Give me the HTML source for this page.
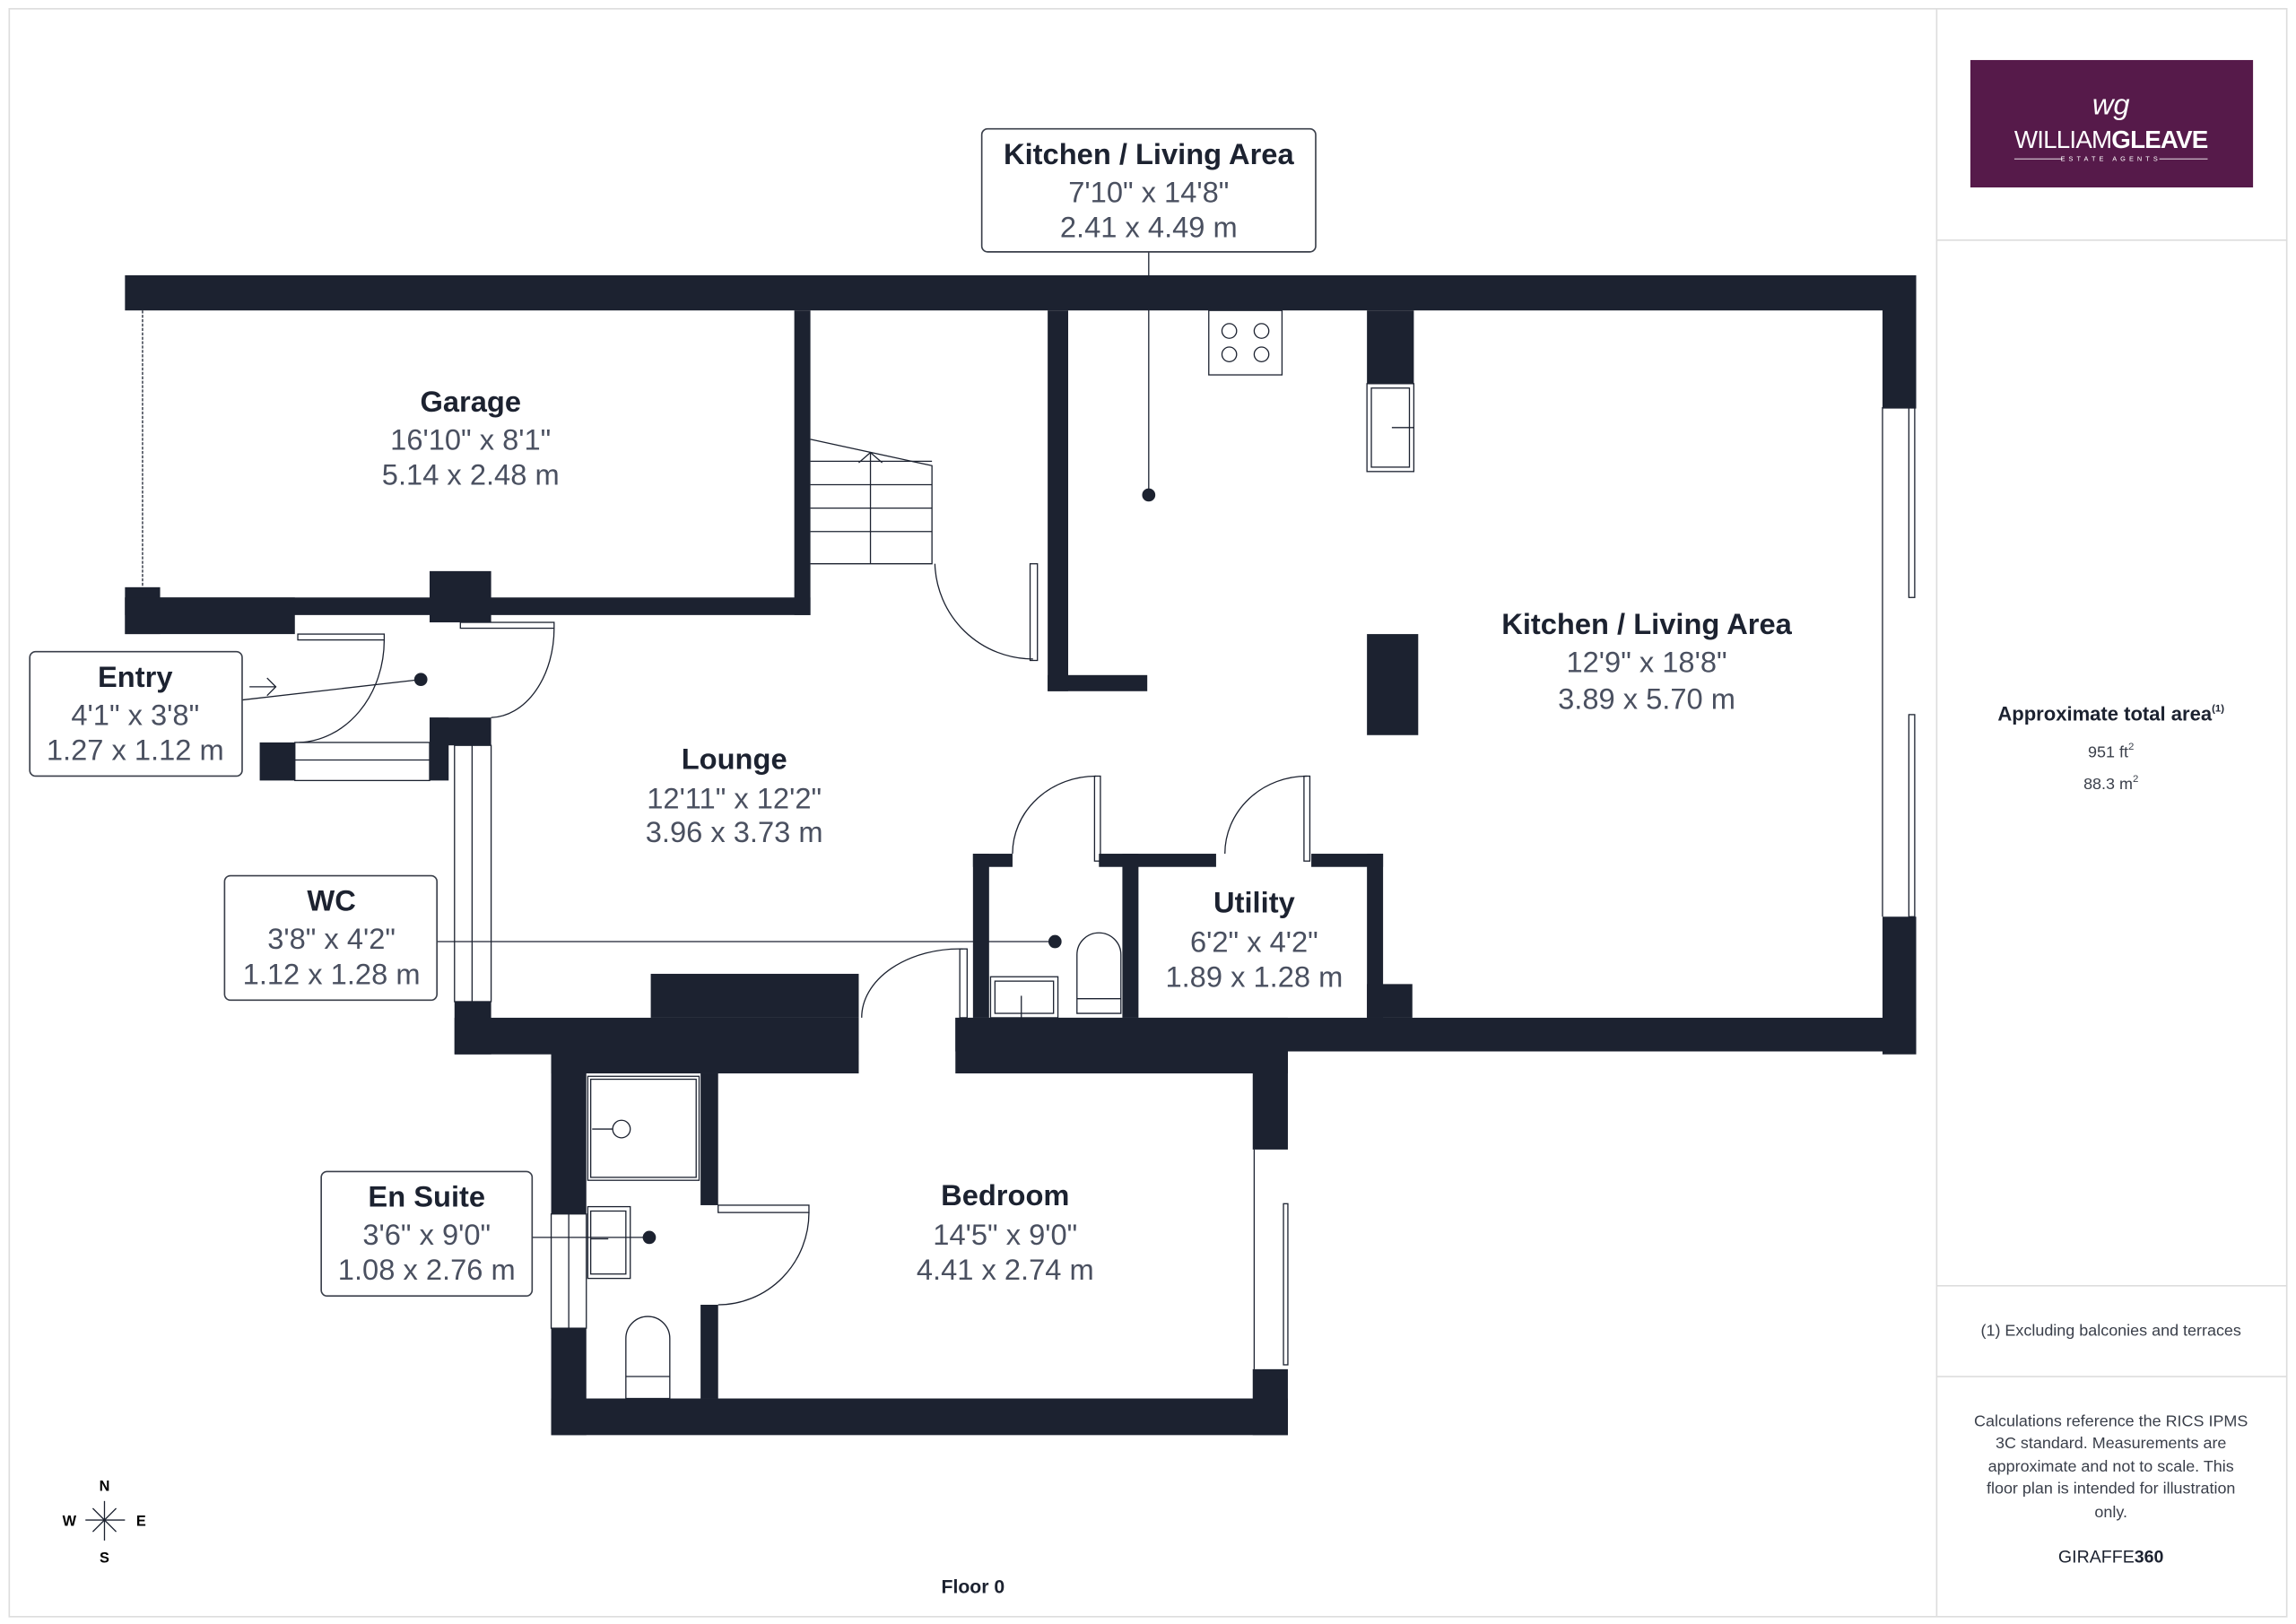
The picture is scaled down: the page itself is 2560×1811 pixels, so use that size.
<!DOCTYPE html>
<html><head><meta charset="utf-8"><style>
html,body{margin:0;padding:0;background:#fff;}
svg{display:block;}
text{font-family:"Liberation Sans",sans-serif;}
.t{font-weight:bold;font-size:20px;fill:#1c2230;text-anchor:middle;}
.d{font-size:20px;fill:#4a5060;text-anchor:middle;}
.s{font-size:11px;fill:#3a3f4a;text-anchor:middle;}
</style></head><body>
<svg width="2560" height="1811" viewBox="0 0 1567 1109" xmlns="http://www.w3.org/2000/svg">
<rect x="6" y="6" width="1555" height="1098" fill="#fff" stroke="#ddd" stroke-width="1"/>
<line x1="1322" y1="6" x2="1322" y2="1104" stroke="#ddd"/>
<line x1="1322" y1="164" x2="1561" y2="164" stroke="#ddd"/>
<line x1="1322" y1="878" x2="1561" y2="878" stroke="#ddd"/>
<line x1="1322" y1="940" x2="1561" y2="940" stroke="#ddd"/>
<!-- logo -->
<rect x="1345" y="41" width="193" height="87" fill="#561a4a"/>
<text x="1441" y="78" fill="#fff" font-size="20" font-style="italic" text-anchor="middle" font-family="Liberation Serif,serif">wg</text>
<text x="1441" y="101" fill="#fff" font-size="17" text-anchor="middle" letter-spacing="-0.5">WILLIAM<tspan font-weight="bold">GLEAVE</tspan></text>
<text x="1441" y="110" fill="#fff" font-size="4.5" text-anchor="middle" letter-spacing="2.5">ESTATE AGENTS</text>
<line x1="1375" y1="108.5" x2="1408" y2="108.5" stroke="#fff" stroke-width="0.5"/>
<line x1="1474" y1="108.5" x2="1507" y2="108.5" stroke="#fff" stroke-width="0.5"/>
<!-- right panel text -->
<text x="1441" y="492" font-size="13.5" font-weight="bold" text-anchor="middle" fill="#1c2230">Approximate total area<tspan font-size="7" dy="-6">(1)</tspan></text>
<text x="1441" y="517" class="s" font-size="12">951 ft<tspan font-size="7" dy="-5">2</tspan></text>
<text x="1441" y="539" class="s" font-size="12">88.3 m<tspan font-size="7" dy="-5">2</tspan></text>
<text x="1441" y="912" class="s">(1) Excluding balconies and terraces</text>
<text class="s" x="1441" y="974">Calculations reference the RICS IPMS</text>
<text class="s" x="1441" y="989">3C standard. Measurements are</text>
<text class="s" x="1441" y="1005">approximate and not to scale. This</text>
<text class="s" x="1441" y="1020">floor plan is intended for illustration</text>
<text class="s" x="1441" y="1036">only.</text>
<text x="1441" y="1067" font-size="12" text-anchor="middle" fill="#1c2230">GIRAFFE<tspan font-weight="bold">360</tspan></text>
<text x="664" y="1088" font-size="13" font-weight="bold" text-anchor="middle" fill="#1c2230">Floor 0</text>
<!-- compass -->
<g stroke="#1c2230" stroke-width="0.8" fill="none">
<line x1="71" y1="1025" x2="71" y2="1052"/><line x1="58" y1="1038" x2="85" y2="1038"/>
<line x1="63" y1="1030" x2="79" y2="1046"/><line x1="79" y1="1030" x2="63" y2="1046"/>
</g>
<text x="71" y="1018" font-size="10" font-weight="bold" text-anchor="middle">N</text>
<text x="71" y="1067" font-size="10" font-weight="bold" text-anchor="middle">S</text>
<text x="47" y="1042" font-size="10" font-weight="bold" text-anchor="middle">W</text>
<text x="96" y="1042" font-size="10" font-weight="bold" text-anchor="middle">E</text>

<!-- thin lines / fixtures -->
<g fill="#fff" stroke="#1c2230" stroke-width="0.8">
<line x1="97" y1="212" x2="97" y2="401" stroke-dasharray="2,1"/>
<!-- stairs -->
<path d="M553 300 L636 318 L636 385 L553 385" fill="none"/>
<line x1="553" y1="315" x2="636" y2="315"/><line x1="553" y1="331" x2="636" y2="331"/>
<line x1="553" y1="347" x2="636" y2="347"/><line x1="553" y1="363" x2="636" y2="363"/>
<line x1="594" y1="309" x2="594" y2="385"/>
<path d="M586 316 L594 309 L602 316" fill="none"/>
<!-- stair door -->
<rect x="703" y="385" width="5" height="66"/>
<path d="M638 385 A67 67 0 0 0 705 450" fill="none"/>
<!-- entry doors -->
<rect x="203" y="433" width="59" height="4"/>
<path d="M262 437 A60 70 0 0 1 204 507" fill="none"/>
<rect x="314" y="425" width="64" height="4"/>
<path d="M378 429 A44 61 0 0 1 335 490" fill="none"/>
<!-- windows -->
<rect x="201" y="507" width="92" height="26"/><line x1="201" y1="519" x2="293" y2="519"/>
<rect x="310" y="509" width="25" height="175"/><line x1="322" y1="509" x2="322" y2="684"/>
<line x1="1285" y1="278" x2="1285" y2="626"/>
<rect x="1303" y="278" width="4" height="130"/>
<rect x="1303" y="488" width="4" height="138"/>
<rect x="376" y="829" width="24" height="78"/><line x1="388" y1="829" x2="388" y2="907"/>
<line x1="856" y1="785" x2="856" y2="935"/><rect x="876" y="822" width="3" height="110"/>
<!-- hob -->
<rect x="825" y="212" width="50" height="44"/>
<circle cx="839" cy="226" r="5"/><circle cx="861" cy="226" r="5"/>
<circle cx="839" cy="242" r="5"/><circle cx="861" cy="242" r="5"/>
<!-- sink -->
<rect x="933" y="262" width="32" height="60"/><rect x="936" y="265" width="26" height="54"/>
<line x1="950" y1="292" x2="965" y2="292"/>
<!-- WC / utility doors -->
<rect x="747" y="530" width="4" height="58"/>
<path d="M691 583 A57 53 0 0 1 748 530" fill="none"/>
<rect x="890" y="530" width="4" height="58"/>
<path d="M836 583 A56 53 0 0 1 892 530" fill="none"/>
<!-- lounge-bedroom door -->
<rect x="655" y="648" width="5" height="47"/>
<path d="M588 695 A67 47 0 0 1 657 648" fill="none"/>
<!-- WC fixtures -->
<rect x="676" y="667" width="46" height="28"/><rect x="679" y="670" width="40" height="22"/>
<line x1="697" y1="680" x2="697" y2="695"/>
<path d="M735 692 L735 652 A15 15 0 0 1 765 652 L765 692 Z"/><line x1="735" y1="682" x2="765" y2="682"/>
<!-- en suite -->
<rect x="401" y="735" width="76" height="71"/><rect x="403" y="737" width="72" height="67"/>
<circle cx="424" cy="771" r="6"/><line x1="404" y1="771" x2="418" y2="771"/>
<rect x="401" y="824" width="29" height="49"/><rect x="403" y="827" width="24" height="43"/>
<line x1="403" y1="846" x2="415" y2="846"/>
<path d="M427 955 L427 914 A15 15 0 0 1 457 914 L457 955 Z"/><line x1="427" y1="940" x2="457" y2="940"/>
<rect x="490" y="823" width="62" height="5"/>
<path d="M552 828 A62 63 0 0 1 490 891" fill="none"/>
</g>

<!-- walls -->
<g fill="#1c2230">
<rect x="85" y="188" width="1223" height="24"/>
<rect x="1285" y="188" width="23" height="91"/>
<rect x="1285" y="626" width="23" height="94"/>
<rect x="652" y="695" width="656" height="23"/>
<rect x="652" y="695" width="227" height="38"/>
<rect x="855" y="718" width="24" height="67"/>
<rect x="855" y="935" width="24" height="45"/>
<rect x="376" y="955" width="503" height="25"/>
<rect x="376" y="718" width="24" height="111"/>
<rect x="376" y="907" width="24" height="73"/>
<rect x="478" y="733" width="12" height="90"/>
<rect x="478" y="891" width="12" height="64"/>
<rect x="310" y="684" width="25" height="36"/>
<rect x="310" y="695" width="276" height="25"/>
<rect x="444" y="665" width="142" height="30"/>
<rect x="376" y="718" width="210" height="15"/>
<rect x="293" y="490" width="42" height="19"/>
<rect x="293" y="490" width="13" height="43"/>
<rect x="177" y="507" width="24" height="26"/>
<rect x="85" y="401" width="24" height="32"/>
<rect x="85" y="408" width="116" height="25"/>
<rect x="85" y="408" width="468" height="12"/>
<rect x="293" y="390" width="42" height="35"/>
<rect x="542" y="212" width="11" height="208"/>
<rect x="715" y="212" width="14" height="260"/>
<rect x="715" y="461" width="68" height="11"/>
<rect x="933" y="212" width="32" height="50"/>
<rect x="933" y="433" width="35" height="69"/>
<rect x="933" y="583" width="11" height="112"/>
<rect x="933" y="672" width="31" height="23"/>
<rect x="895" y="583" width="49" height="9"/>
<rect x="774" y="583" width="56" height="9"/>
<rect x="750" y="583" width="27" height="9"/>
<rect x="766" y="583" width="11" height="112"/>
<rect x="664" y="583" width="11" height="112"/>
<rect x="664" y="583" width="27" height="9"/>
</g>

<!-- leader lines -->
<g stroke="#1c2230" stroke-width="0.8" fill="none">
<line x1="784" y1="172" x2="784" y2="338"/>
<line x1="165" y1="478" x2="287" y2="464"/>
<path d="M170 469 L188 469 M182 463 L188 469 L182 475"/>
<line x1="298" y1="643" x2="720" y2="643"/>
<line x1="363" y1="845" x2="443" y2="845"/>
</g>
<g fill="#1c2230">
<circle cx="784" cy="338" r="4.5"/><circle cx="287" cy="464" r="4.5"/>
<circle cx="720" cy="643" r="4.5"/><circle cx="443" cy="845" r="4.5"/>
</g>

<!-- label boxes -->
<g fill="#fff" stroke="#3a3f4a" stroke-width="1">
<rect x="670" y="88" width="228" height="84" rx="4"/>
<rect x="20" y="445" width="145" height="85" rx="4"/>
<rect x="153" y="598" width="145" height="85" rx="4"/>
<rect x="219" y="800" width="144" height="85" rx="4"/>
</g>
<text class="t" x="784" y="112">Kitchen / Living Area</text>
<text class="d" x="784" y="138">7'10" x 14'8"</text>
<text class="d" x="784" y="162">2.41 x 4.49 m</text>
<text class="t" x="92" y="469">Entry</text>
<text class="d" x="92" y="495">4'1" x 3'8"</text>
<text class="d" x="92" y="519">1.27 x 1.12 m</text>
<text class="t" x="226" y="622">WC</text>
<text class="d" x="226" y="648">3'8" x 4'2"</text>
<text class="d" x="226" y="672">1.12 x 1.28 m</text>
<text class="t" x="291" y="824">En Suite</text>
<text class="d" x="291" y="850">3'6" x 9'0"</text>
<text class="d" x="291" y="874">1.08 x 2.76 m</text>

<text class="t" x="321" y="281">Garage</text>
<text class="d" x="321" y="307">16'10" x 8'1"</text>
<text class="d" x="321" y="331">5.14 x 2.48 m</text>
<text class="t" x="501" y="525">Lounge</text>
<text class="d" x="501" y="552">12'11" x 12'2"</text>
<text class="d" x="501" y="575">3.96 x 3.73 m</text>
<text class="t" x="1124" y="433">Kitchen / Living Area</text>
<text class="d" x="1124" y="459">12'9" x 18'8"</text>
<text class="d" x="1124" y="484">3.89 x 5.70 m</text>
<text class="t" x="856" y="623">Utility</text>
<text class="d" x="856" y="650">6'2" x 4'2"</text>
<text class="d" x="856" y="674">1.89 x 1.28 m</text>
<text class="t" x="686" y="823">Bedroom</text>
<text class="d" x="686" y="850">14'5" x 9'0"</text>
<text class="d" x="686" y="874">4.41 x 2.74 m</text>
</svg>
</body></html>
